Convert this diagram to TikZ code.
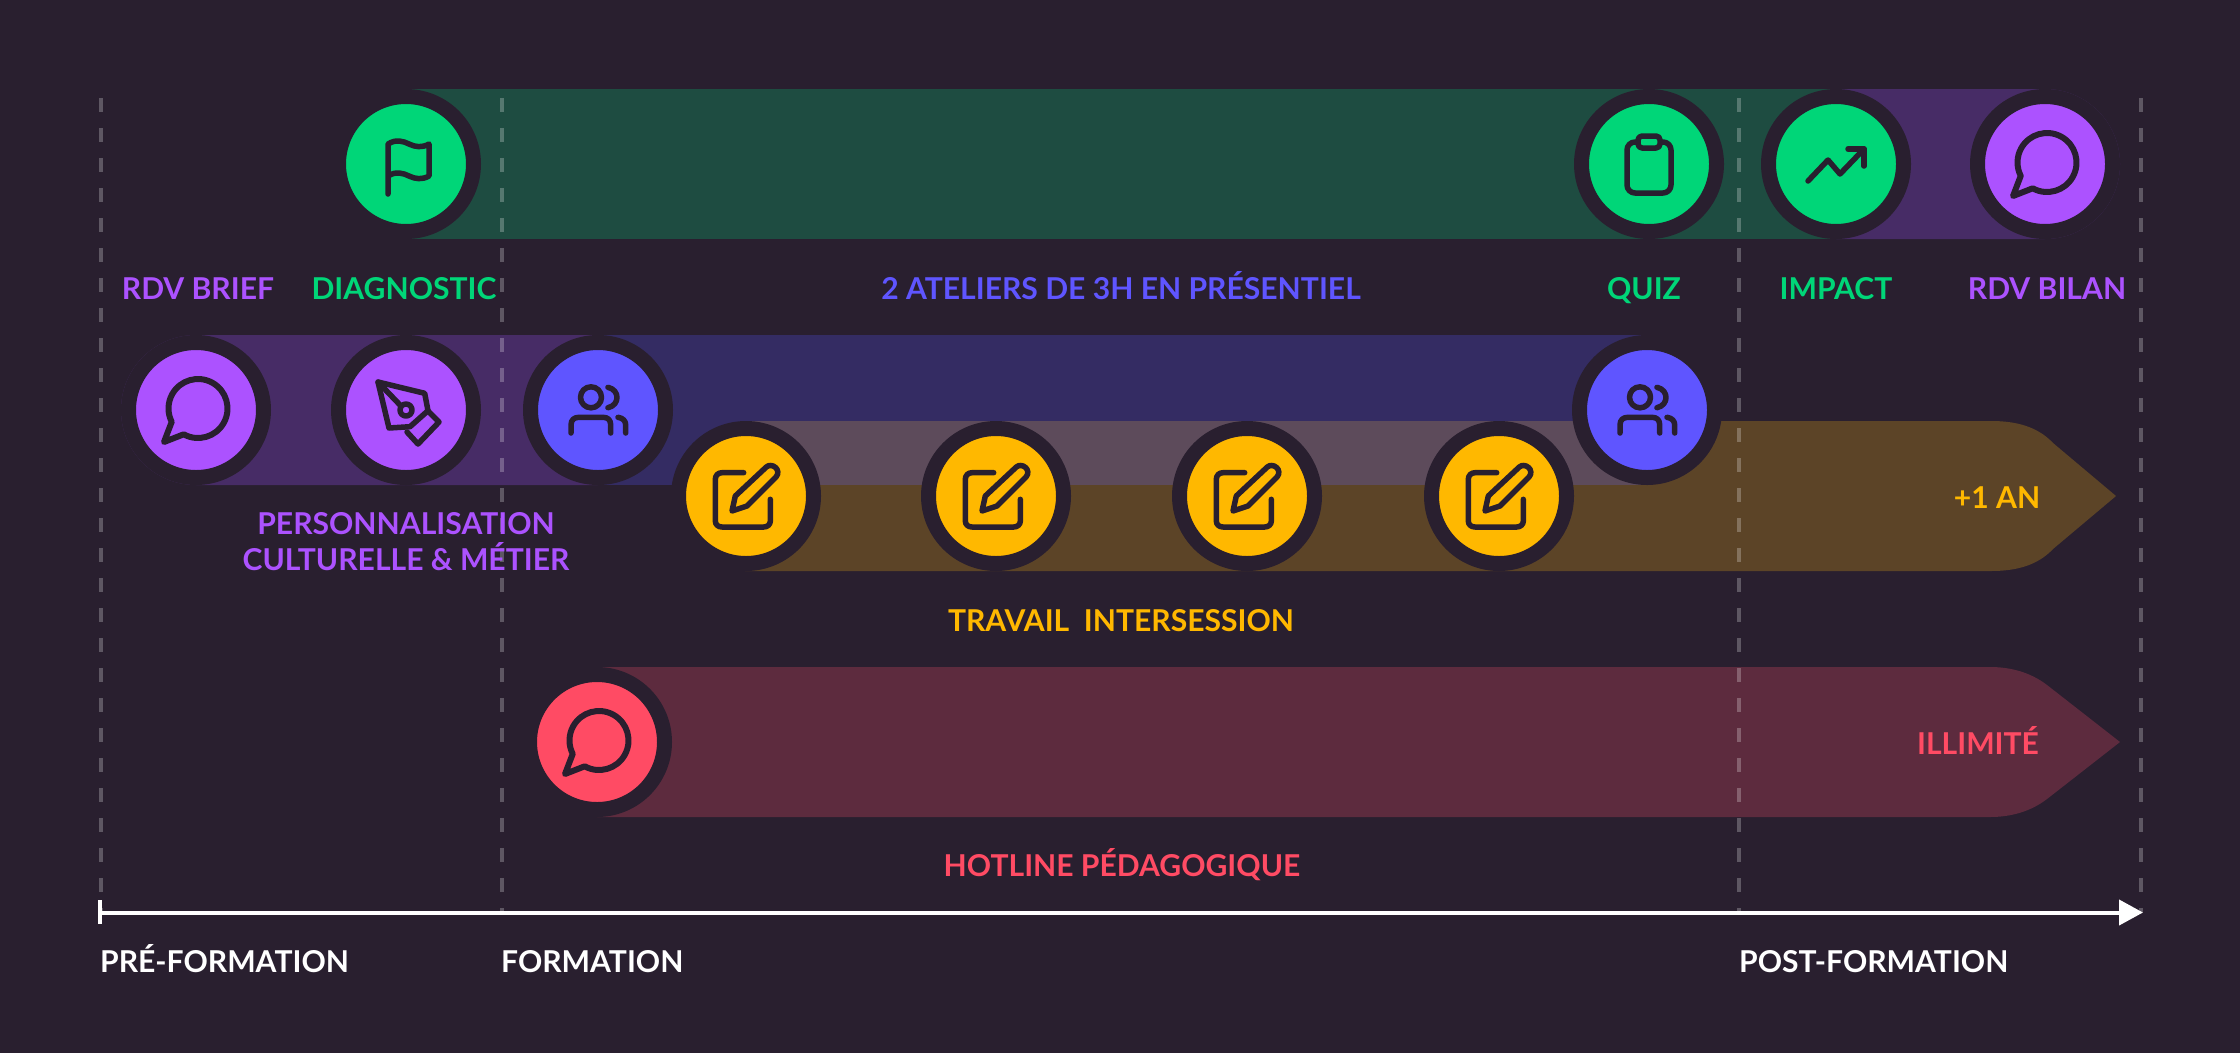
\documentclass[tikz,border=0pt]{standalone}
\usepackage{fontspec}
\setmainfont{Lato}
\usetikzlibrary{arrows.meta}
\definecolor{bgc}{HTML}{291F2F}
\definecolor{purp}{HTML}{AC52FF}
\definecolor{grn}{HTML}{00D678}
\definecolor{blu}{HTML}{5F55FF}
\definecolor{yel}{HTML}{FFB800}
\definecolor{rd}{HTML}{FF4B64}
\definecolor{barpurp}{HTML}{472C66}
\definecolor{bargrn}{HTML}{1E4C41}
\definecolor{barblu}{HTML}{342C63}
\definecolor{baryel}{HTML}{5C4427}
\definecolor{barrd}{HTML}{5D2B3E}
\definecolor{barmix}{HTML}{5D4B5B}
\tikzset{
  disc/.style={circle,draw=bgc,line width=15pt,minimum size=135pt,inner sep=0pt},
  iconline/.style={draw=bgc,line width=5.5pt,line cap=round,line join=round},
  lbl/.style={inner sep=0pt,anchor=base,font=\fontsize{30.1}{36.5}\selectfont\bfseries},
  guide/.style={draw=white,draw opacity=.25,line width=4pt,dash pattern=on 14pt off 16pt},
  chaticon/.pic={
    \draw[iconline,line width=6pt] (-12.3,24.3) arc[start angle=119,end angle=-207,radius=29.5] -- (-32,32) -- cycle;
  },
  flagicon/.pic={
    \draw[iconline] (-18,30) -- (-18,-20) .. controls (-10,-25) and (-3,-23) .. (3,-20)
      .. controls (9,-17) and (16,-16) .. (23,-20) -- (23,12)
      .. controls (16,16) and (9,15) .. (3,12) .. controls (-3,9) and (-10,7) .. (-18,12);
  },
  clipicon/.pic={
    \draw[iconline,rounded corners=8pt] (-22,-22) rectangle (22,29);
    \draw[iconline,fill=grn,rounded corners=4pt] (-11,-28) rectangle (11,-16);
  },
  trendicon/.pic={
    \draw[iconline] (-28,17) -- (-8,-4) -- (4,10) -- (28,-15);
    \draw[iconline] (12,-15) -- (28,-15) -- (28,2);
  },
  usersicon/.pic={
    \draw[iconline] (-7,-12.7) circle[radius=10.5];
    \draw[iconline] (10,-22.7) .. controls (22,-20) and (22,-5) .. (10,-2.3);
    \draw[iconline] (-27,23) -- (-27,15) .. controls (-27,10) and (-24,7.3) .. (-19,7.3)
      -- (5,7.3) .. controls (10,7.3) and (12.7,10) .. (12.7,15) -- (12.7,23);
    \draw[iconline] (20,7.3) .. controls (25,8) and (27.7,11) .. (27.7,15) -- (27.7,23);
  },
  editicon/.pic={
    \draw[iconline] (-2.3,-23.3) -- (-24,-23.3) .. controls (-28,-23.3) and (-30.7,-20.5) .. (-30.7,-16.7)
      -- (-30.7,25) .. controls (-30.7,28.5) and (-28,31) .. (-24,31)
      -- (17.7,31) .. controls (21.5,31) and (24.3,28.5) .. (24.3,25) -- (24.3,3.3);
    \draw[iconline] (-10.7,0) -- (20.3,-29) .. controls (26,-34) and (36,-26) .. (30,-19)
      -- (1,10) -- (-14,15) -- cycle;
  },
  penicon/.pic={
    \draw[iconline] (-28,-28) -- (18.7,-16.7) -- (22,0.7) -- (4,16.7) -- (-17,18) -- cycle;
    \draw[iconline] (22,1) -- (33,12) -- (12,34) -- (1,22);
    \draw[iconline] (-28,-28) -- (-5,-4);
    \draw[iconline] (0,0) circle[radius=6];
  }
}
\begin{document}
\begin{tikzpicture}[x=1pt,y=-1pt]
\useasboundingbox (0,0) rectangle (2240,1053);
\fill[bgc] (0,0) rectangle (2240,1053);

% bars
\fill[bargrn] (406,89) rectangle (1836,239);
\fill[barpurp] (1836,89) -- (2045,89) arc[start angle=-90,end angle=90,radius=75] -- (1836,239) -- cycle;
\fill[barpurp] (196,335) -- (598,335) -- (598,485) -- (196,485) arc[start angle=90,end angle=270,radius=75] -- cycle;
\fill[barblu] (598,335) rectangle (1647,485);
\fill[baryel] (745,421) -- (1991,421) .. controls (2015,421) and (2037,426) .. (2053,443)
  -- (2116,496) -- (2053,549) .. controls (2037,566) and (2015,571) .. (1991,571) -- (745,571) -- cycle;
\fill[barmix] (745,421) rectangle (1647,485);
\fill[barrd] (597,667) -- (1990,667) .. controls (2010,667) and (2030,672) .. (2047,685)
  -- (2120,742) -- (2047,799) .. controls (2030,812) and (2010,817) .. (1990,817) -- (597,817) -- cycle;

% guides
\coordinate (g1a) at (100.5,98); \coordinate (g1b) at (100.5,912);
\coordinate (g2a) at (501.5,98); \coordinate (g2b) at (501.5,912);
\coordinate (g3a) at (1739,98); \coordinate (g3b) at (1739,912);
\coordinate (g4a) at (2141,98); \coordinate (g4b) at (2141,912);
\draw[guide] (g1a) -- (g1b);
\draw[guide] (g2a) -- (g2b);
\draw[guide] (g3a) -- (g3b);
\draw[guide] (g4a) -- (g4b);

% axis
\coordinate (axisa) at (100,912.5);
\coordinate (axisb) at (2143,912.5);
\coordinate (ticka) at (100,900);
\coordinate (tickb) at (100,924);
\draw[white,line width=4pt,-{Triangle[length=24pt,width=25pt]}] (axisa) -- (axisb);
\draw[white,line width=4pt] (ticka) -- (tickb);

% discs
\node[disc,fill=grn] (flag) at (406,164) {};
\node[disc,fill=grn] (quiz) at (1649,164) {};
\node[disc,fill=grn] (impact) at (1836,164) {};
\node[disc,fill=purp] (bilan) at (2045,164) {};
\node[disc,fill=purp] (brief) at (196,410) {};
\node[disc,fill=purp] (pen) at (406,410) {};
\node[disc,fill=blu] (usersa) at (598,410) {};
\node[disc,fill=blu] (usersb) at (1647,410) {};
\node[disc,fill=yel] (edita) at (746,496) {};
\node[disc,fill=yel] (editb) at (996,496) {};
\node[disc,fill=yel] (editc) at (1247,496) {};
\node[disc,fill=yel] (editd) at (1499,496) {};
\node[disc,fill=rd] (hotline) at (597,742) {};

% icons
\pic at (flag) {flagicon};
\pic at (quiz) {clipicon};
\pic at (impact) {trendicon};
\pic at (bilan) {chaticon};
\pic at (brief) {chaticon};
\pic at (pen) {penicon};
\pic at (usersa) {usersicon};
\pic at (usersb) {usersicon};
\pic at (edita) {editicon};
\pic at (editb) {editicon};
\pic at (editc) {editicon};
\pic at (editd) {editicon};
\pic at (hotline) {chaticon};

% labels
\node[lbl,text=purp] (t1) at (198,299) {RDV BRIEF};
\node[lbl,text=grn] (t2) at (404,299) {DIAGNOSTIC};
\node[lbl,text=blu] (t3) at (1121,299) {2 ATELIERS DE 3H EN PRÉSENTIEL};
\node[lbl,text=grn] (t4) at (1644,299) {QUIZ};
\node[lbl,text=grn] (t5) at (1836,299) {IMPACT};
\node[lbl,text=purp] (t6) at (2047,299) {RDV BILAN};
\node[lbl,text=purp] (t7) at (406,534) {PERSONNALISATION};
\node[lbl,text=purp] (t8) at (406,570) {CULTURELLE \& MÉTIER};
\node[lbl,text=yel] (t9) at (1997,508) {+1 AN};
\node[lbl,text=yel] (t10) at (1121,631) {TRAVAIL\ \ INTERSESSION};
\node[lbl,text=rd] (t11) at (1978,754) {ILLIMITÉ};
\node[lbl,text=rd] (t12) at (1122,876) {HOTLINE PÉDAGOGIQUE};
\node[lbl,text=white,anchor=base west] (t13) at (100,972) {PRÉ-FORMATION};
\node[lbl,text=white,anchor=base west] (t14) at (501,972) {FORMATION};
\node[lbl,text=white,anchor=base west] (t15) at (1739,972) {POST-FORMATION};
\end{tikzpicture}
\end{document}
